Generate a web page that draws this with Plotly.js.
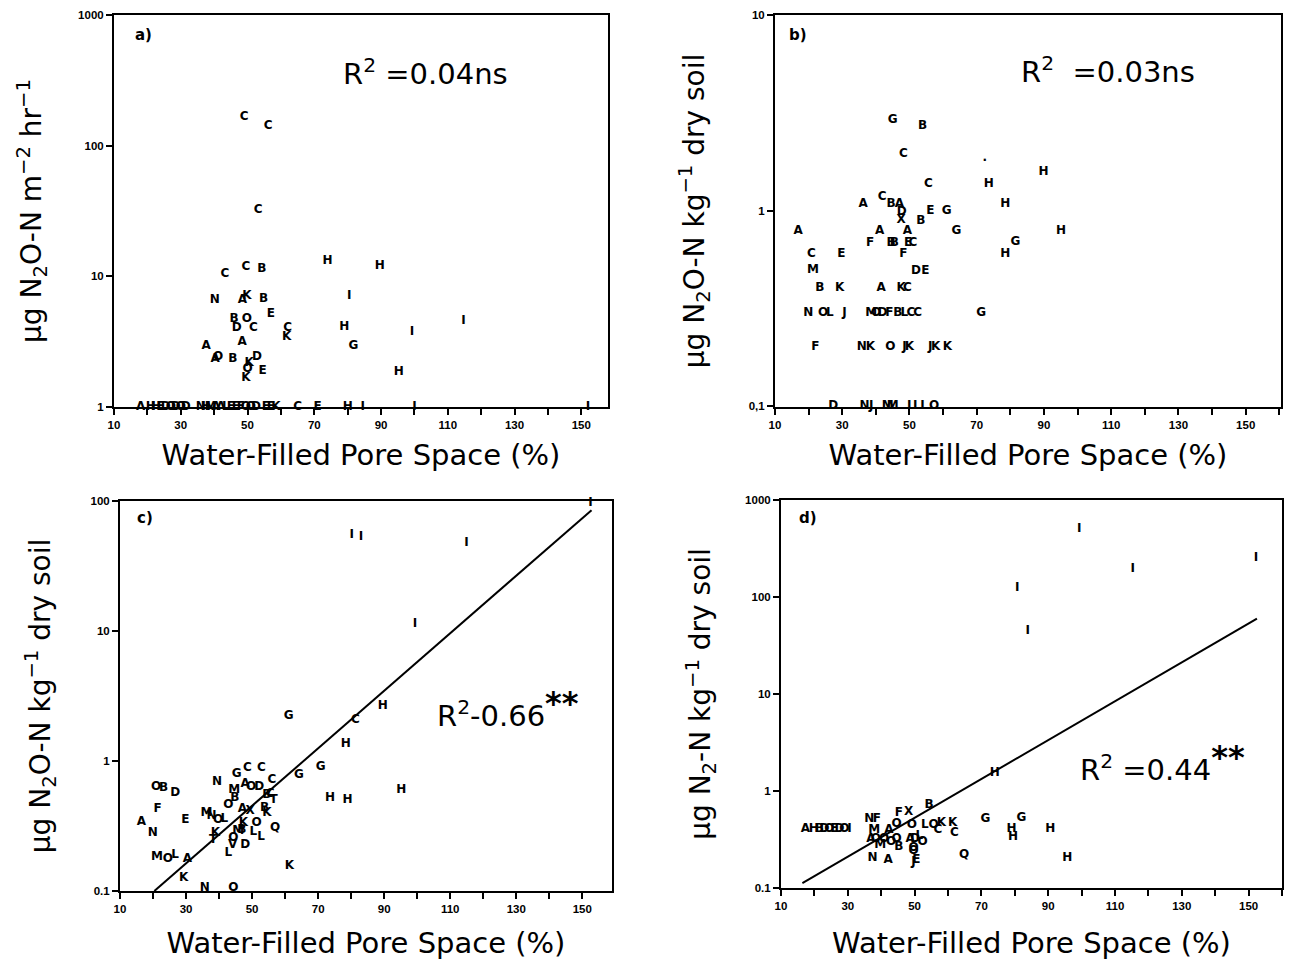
<!DOCTYPE html>
<html>
<head>
<meta charset="utf-8">
<script src="https://cdn.plot.ly/plotly-3.0.1.min.js"></script>
<style>html,body{margin:0;padding:0;background:#fff;}#chart{width:1301px;height:960px;}</style>
</head>
<body>
<div id="chart"></div>
<script>
// ---------- Panel a: N2O flux (field) vs WFPS ----------
const aLetters = ['C','C','C','C','C','B','H','H','N','A','K','B','I','E','B','O','D','C','C','K','H','I','I','A','A','G','A','O','B','D','K','O','E','K','H',
  'A','H','H','E','D','O','D','O','D','N','H','M','A','A','L','E','E','F','O','O','D','E','E','K','C','E','H','I','I','I'];
const aX = [49,56.2,53.2,43.2,49.5,54.3,74,89.6,40.2,48.5,49.8,54.8,80.5,57,46,49.8,46.8,51.8,62,61.7,79,114.7,99.3,37.6,48.4,81.7,40.3,41.2,45.6,52.8,50.5,50,54.5,49.5,95.3,
  18,21,22.5,24,25.5,27,28.5,30,31.5,36,37.5,39,40.5,42,43.5,45,46.5,48,49.5,51,52.5,55.5,57,58.5,65,71,80,84.5,100,152];
const aY = [165,141,32,10.4,11.7,11.3,13.1,12,6.5,6.6,7.0,6.7,7.0,5.1,4.7,4.7,4.0,4.0,4.0,3.4,4.05,4.5,3.7,2.9,3.15,2.9,2.3,2.4,2.3,2.4,2.15,1.95,1.87,1.66,1.83,
  1,1,1,1,1,1,1,1,1,1,1,1,1,1,1,1,1,1,1,1,1,1,1,1,1,1,1,1,1,1];

// ---------- Panel b: N2O (lab) vs WFPS ----------
const bLetters = ['G','B','C','.','C','H','H','A','C','B','A','D','E','G','H','X','B','A','A','A','G','H','F','B','B','E','C','G','H','C','E','F','M','D','E','B','K','A','K','C',
  'N','O','L','J','M','O','D','F','B','L','C','C','G','F','N','K','O','J','K','J','K','K',
  'D','N','J','M','M','L','L','I','O'];
const bX = [45,53.9,48.2,72.4,55.6,73.6,89.9,36.2,41.9,44.5,47,47.7,56.2,61.1,78.5,47.5,53.4,16.9,41.1,49.4,64,95.1,38.3,44.5,45.5,49.6,51,81.5,78.5,20.8,29.7,48.2,21.3,51.9,54.7,23.3,29.2,41.6,47.5,49.4,
  19.9,24.3,26.3,30.7,38.6,40.1,42,44,46.5,48.5,50.4,52.4,71.3,22,35.8,38.4,44.3,48.5,50,56.2,57.8,61.3,
  27.3,36.6,38.6,43.5,45,50.4,52.2,53.9,57.3];
const bY = [2.89,2.72,1.95,1.85,1.37,1.37,1.57,1.08,1.17,1.08,1.08,0.98,0.99,0.99,1.08,0.895,0.89,0.79,0.79,0.79,0.79,0.79,0.685,0.685,0.685,0.685,0.685,0.69,0.6,0.6,0.6,0.6,0.497,0.49,0.49,0.4,0.4,0.4,0.4,0.4,
  0.3,0.3,0.3,0.3,0.3,0.3,0.3,0.3,0.3,0.3,0.3,0.3,0.3,0.2,0.2,0.2,0.2,0.2,0.2,0.2,0.2,0.2,
  0.1,0.1,0.1,0.1,0.1,0.1,0.1,0.1,0.1];

// ---------- Panel c: N2O (lab, acetylene) vs WFPS ----------
const cLetters = ['I','I','I','I','I','G','C','H','H','G','G','H','H','H','N','G','C','C','A','O','D','C','C','M','O','B','D','F','E','A','N','M','O','L','A','K','N','O','K','Q','L','D','V','L','O','L','O','K','B',
  'M','N','O','L','O','B','A','X','K','B','M','K','T','B','T'];
const cX = [152.5,80.2,83,114.9,99.3,61.1,81.3,89.6,78.4,70.8,64.2,73.6,78.9,95.2,39.4,45.3,48.6,52.8,47.9,49.7,52.2,56,55.5,44.6,20.9,23.2,26.7,21.4,29.8,16.5,19.9,21.2,24.5,26.7,30.4,29.3,35.7,44.3,61.3,57,52.7,47.9,44.1,42.8,44.3,50.4,51.4,54.5,53.8,
  36.2,37.7,39.7,41.6,42.8,44.8,47.1,49.4,47.4,46.9,45.8,38.9,38.2,54.5,56.5];
const cY = [96,54.7,53.2,47.8,11.3,2.22,2.07,2.65,1.35,0.894,0.78,0.516,0.5,0.598,0.693,0.8,0.88,0.89,0.67,0.635,0.635,0.714,0.56,0.598,0.635,0.62,0.57,0.425,0.352,0.34,0.278,0.184,0.175,0.19,0.175,0.125,0.105,0.105,0.157,0.307,0.262,0.226,0.226,0.195,0.254,0.286,0.332,0.395,0.433,
  0.396,0.38,0.352,0.36,0.459,0.516,0.425,0.41,0.332,0.295,0.29,0.281,0.247,0.55,0.5];
const cLineX = [20.4, 152.8];
const cLineY = [0.1, 85];

// ---------- Panel d: N2 (lab) vs WFPS ----------
const dLetters = ['I','I','I','I','I','H','B','G','G','H','H','H','H','Q','K','C','K','O','C','L',
  'A','H','B','D','O','E','D','O','I',
  'N','F','F','X','A','O','O','M','A','O','M','O','O','O','B','A','D','O','O','L','N','A','J','E','O'];
const dX = [99.3,152.2,115.3,80.7,83.9,74,54.3,71.2,82,79,79.5,90.6,95.7,64.8,61.4,61.9,58,55.7,57,53.1,
  17.3,19.8,21.5,23,24.5,26,27.5,29,30.5,
  36.4,38.7,45.3,48.2,42.3,44.6,49.2,37.9,36.9,38.4,39.7,40.9,43,44.6,45.3,48.7,50.2,52.4,49.7,51.4,37.4,42.1,49.7,50.5,49.7];
const dY = [499,251,193,125,45,1.52,0.718,0.51,0.53,0.41,0.338,0.41,0.202,0.219,0.464,0.372,0.464,0.45,0.40,0.45,
  0.405,0.405,0.405,0.405,0.405,0.405,0.405,0.405,0.405,
  0.51,0.52,0.6,0.61,0.396,0.46,0.45,0.40,0.318,0.32,0.277,0.32,0.30,0.32,0.262,0.32,0.32,0.30,0.26,0.34,0.202,0.195,0.187,0.195,0.24];
const dLineX = [16.4, 152.5];
const dLineY = [0.112, 60];

// ---------- Axis ticks ----------
const xTick0 = 10, xLabelStep = 20, xMinorStep = 10;
const aYTickVals = [1,10,100,1000];  const aYTickText = ['1','10','100','1000'];
const bYTickVals = [0.1,1,10];       const bYTickText = ['0,1','1','10'];
const cYTickVals = [0.1,1,10,100];   const cYTickText = ['0.1','1','10','100'];
const dYTickVals = [0.1,1,10,100,1000]; const dYTickText = ['0.1','1','10','100','1000'];

const xTitle = 'Water-Filled Pore Space (%)';
const aYTitle = 'µg N<sub>2</sub>O-N m<sup>−2</sup> hr<sup>−1</sup>';
const bYTitle = 'µg N<sub>2</sub>O-N kg<sup>−1</sup> dry soil';
const cYTitle = 'µg N<sub>2</sub>O-N kg<sup>−1</sup> dry soil';
const dYTitle = 'µg N<sub>2</sub>-N kg<sup>−1</sup> dry soil';

// ---------- Build ----------
const W = 1301, H = 960;
const letterFont = {family: 'DejaVu Sans', size: 12, color: '#000', weight: 'bold'};
function textTrace(x, y, t, xa, ya) {
  return {x: x, y: y, text: t, mode: 'text', type: 'scatter', textposition: 'middle center',
          textfont: letterFont, xaxis: xa, yaxis: ya, hoverinfo: 'skip', showlegend: false, cliponaxis: false};
}
function lineTrace(x, y, xa, ya) {
  return {x: x, y: y, mode: 'lines', type: 'scatter', line: {color: '#000', width: 2},
          xaxis: xa, yaxis: ya, hoverinfo: 'skip', showlegend: false};
}
const data = [
  textTrace(aX, aY, aLetters, 'x', 'y'),
  textTrace(bX, bY, bLetters, 'x2', 'y2'),
  textTrace(cX, cY, cLetters, 'x3', 'y3'),
  lineTrace(cLineX, cLineY, 'x3', 'y3'),
  textTrace(dX, dY, dLetters, 'x4', 'y4'),
  lineTrace(dLineX, dLineY, 'x4', 'y4')
];

const tickFont = {family: 'Liberation Sans', size: 11.5, color: '#000', weight: 'bold'};
const titleFont = {family: 'DejaVu Sans', size: 28, color: '#000'};
function xax(l, r, range, anchor, standoff) {
  return {domain: [l / W, r / W], range: range, anchor: anchor, tickmode: 'linear', tick0: xTick0, dtick: xLabelStep,
          ticks: 'outside', ticklen: 6, tickwidth: 2, tickcolor: '#000', tickfont: tickFont,
          minor: {tick0: xTick0, dtick: xMinorStep, ticks: 'outside', ticklen: 6, tickwidth: 2, tickcolor: '#000', showgrid: false},
          showline: true, linecolor: '#000', linewidth: 2, mirror: true, showgrid: false, zeroline: false,
          title: {text: xTitle, font: {family: 'DejaVu Sans', size: 29, color: '#000'}, standoff: standoff}};
}
function yax(top, bot, range, vals, txt, ttl, anchor, standoff) {
  return {domain: [1 - bot / H, 1 - top / H], type: 'log', range: range, anchor: anchor, tickmode: 'array', tickvals: vals, ticktext: txt,
          ticks: 'outside', ticklen: 6, tickwidth: 2, tickcolor: '#000', tickfont: tickFont,
          showline: true, linecolor: '#000', linewidth: 2, mirror: true, showgrid: false, zeroline: false,
          title: {text: ttl, font: titleFont, standoff: standoff}};
}
function ann(x, y, text, size, bold) {
  return {x: x / W, y: 1 - y / H, xref: 'paper', yref: 'paper', text: text, showarrow: false,
          xanchor: 'center', yanchor: 'middle',
          font: {family: 'DejaVu Sans', size: size, color: '#000', weight: bold ? 'bold' : 'normal'}};
}
const stars = '<sup><span style="font-size:32px;font-weight:bold">**</span></sup>';
const layout = {
  width: W, height: H, margin: {l: 0, r: 0, t: 0, b: 0}, paper_bgcolor: '#fff', plot_bgcolor: '#fff', showlegend: false,
  xaxis: xax(114, 608, [10, 158], 'y', 15),
  yaxis: yax(15, 407, [-0.003, 3], aYTickVals, aYTickText, aYTitle, 'x', 28),
  xaxis2: xax(775, 1281, [10, 160.5], 'y2', 15),
  yaxis2: yax(15, 407, [-1.004, 1], bYTickVals, bYTickText, bYTitle, 'x2', 36),
  xaxis3: xax(120, 612, [10, 159], 'y3', 19),
  yaxis3: yax(501, 891, [-1, 2], cYTickVals, cYTickText, cYTitle, 'x3', 32),
  xaxis4: xax(781, 1282, [10, 160], 'y4', 22),
  yaxis4: yax(500, 888, [-1, 3], dYTickVals, dYTickText, dYTitle, 'x4', 26),
  annotations: [
    ann(143, 35, 'a)', 15, true),
    ann(798, 35, 'b)', 15, true),
    ann(145, 518, 'c)', 15, true),
    ann(808, 518, 'd)', 15, true),
    ann(425, 72, 'R<sup>2</sup> =0.04ns', 29, false),
    ann(1108, 70, 'R<sup>2</sup>  =0.03ns', 29, false),
    ann(508, 708, 'R<sup>2</sup>-0.66' + stars, 29, false),
    ann(1162, 762, 'R<sup>2</sup> =0.44' + stars, 29, false)
  ]
};
Plotly.newPlot('chart', data, layout, {displayModeBar: false, staticPlot: true});
</script>
</body>
</html>
